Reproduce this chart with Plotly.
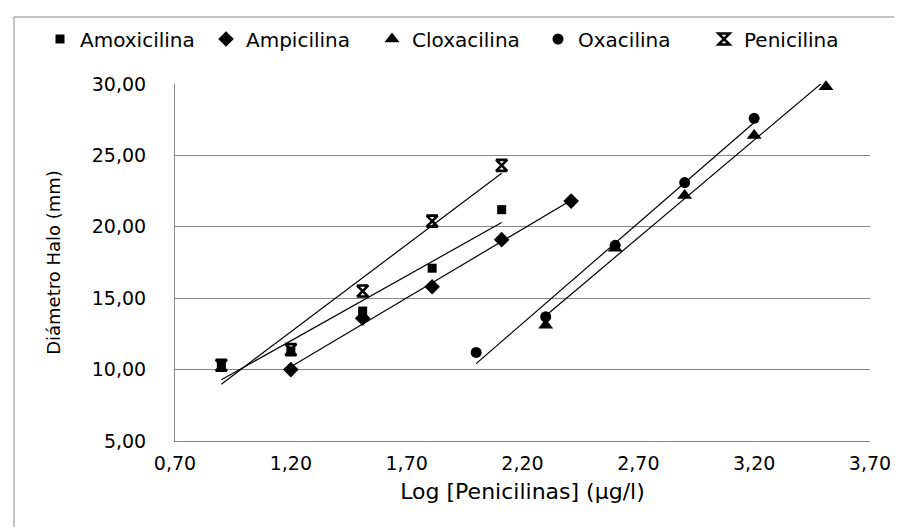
import numpy as np
import plotly.graph_objects as go

# ---- data ----
series_names = ["Amoxicilina", "Ampicilina", "Cloxacilina", "Oxacilina", "Penicilina"]

x_amox = [0.90, 1.20, 1.51, 1.81, 2.11]
y_amox = [10.3, 11.3, 14.1, 17.1, 21.2]

x_ampi = [1.20, 1.51, 1.81, 2.11, 2.41]
y_ampi = [10.0, 13.6, 15.8, 19.1, 21.8]

x_clox = [2.30, 2.60, 2.90, 3.20, 3.51]
y_clox = [13.1, 18.5, 22.2, 26.4, 29.8]

x_oxa = [2.00, 2.30, 2.60, 2.90, 3.20]
y_oxa = [11.2, 13.7, 18.7, 23.1, 27.6]

x_peni = [0.90, 1.20, 1.51, 1.81, 2.11]
y_peni = [10.3, 11.4, 15.5, 20.4, 24.3]

x_title = "Log [Penicilinas] (µg/l)"
y_title = "Diámetro Halo (mm)"

# ---- styles ----
GRID = "#868686"
FONT = "DejaVu Sans"
styles = {
    "Amoxicilina": dict(symbol="square", size=9),
    "Ampicilina": dict(symbol="diamond", size=12),
    "Cloxacilina": dict(symbol="triangle-up", size=13),
    "Oxacilina": dict(symbol="circle", size=11),
    "Penicilina": dict(symbol="hourglass-open", size=11),
}

data = [
    ("Amoxicilina", x_amox, y_amox),
    ("Ampicilina", x_ampi, y_ampi),
    ("Cloxacilina", x_clox, y_clox),
    ("Oxacilina", x_oxa, y_oxa),
    ("Penicilina", x_peni, y_peni),
]

fig = go.Figure()

# trendlines (linear least squares over each series' range)
for name, xs, ys in data:
    slope, intercept = np.polyfit(xs, ys, 1)
    xl = [min(xs), max(xs)]
    yl = [slope * v + intercept for v in xl]
    fig.add_trace(go.Scatter(
        x=xl, y=yl, mode="lines", showlegend=False, hoverinfo="skip",
        line=dict(color="black", width=1.2), cliponaxis=False,
    ))

# markers
for name, xs, ys in data:
    st = styles[name]
    if st["symbol"].endswith("open"):
        marker = dict(symbol=st["symbol"], size=st["size"], color="black",
                      line=dict(color="black", width=2.6))
    else:
        marker = dict(symbol=st["symbol"], size=st["size"], color="black",
                      line=dict(width=0))
    fig.add_trace(go.Scatter(x=xs, y=ys, mode="markers", name=name,
                             marker=marker, cliponaxis=False))

L, R, T, B = 167, 40, 76, 94
W, H = 902, 527
pw, ph = W - L - R, H - T - B

def px_x(p):
    return (p - L) / pw

def px_y(p):
    return (H - B - p) / ph

fig.update_layout(
    width=W, height=H,
    margin=dict(l=L, r=R, t=T, b=B),
    paper_bgcolor="white", plot_bgcolor="white",
    separators=",.",
    font=dict(family=FONT, size=19, color="black"),
    legend=dict(
        orientation="h", x=px_x(32), xanchor="left", y=px_y(31), yanchor="middle",
        font=dict(size=20, family=FONT, color="black"),
        bgcolor="rgba(0,0,0,0)", itemwidth=30,
        entrywidth=121, entrywidthmode="pixels",
    ),
    xaxis=dict(
        range=[0.7, 3.7], tick0=0.7, dtick=0.5, tickformat=".2f",
        showgrid=False, zeroline=False, showline=True, linecolor=GRID, linewidth=1,
        ticks="", ticklabelstandoff=5,
        title=dict(text=x_title, font=dict(size=22), standoff=10),
    ),
    yaxis=dict(
        range=[5, 30], tick0=5, dtick=5, tickformat=".2f",
        showgrid=True, gridcolor=GRID, gridwidth=1, zeroline=False,
        showline=True, linecolor=GRID, linewidth=1,
        ticks="", ticklabelstandoff=24,
        title=dict(text=y_title, font=dict(size=18), standoff=26),
    ),
    shapes=[dict(
        type="rect", xref="paper", yref="paper",
        x0=px_x(6), x1=px_x(930), y0=px_y(545), y1=px_y(9),
        line=dict(color=GRID, width=1), fillcolor="rgba(0,0,0,0)", layer="below",
    )],
)

fig.write_html("out.html")
